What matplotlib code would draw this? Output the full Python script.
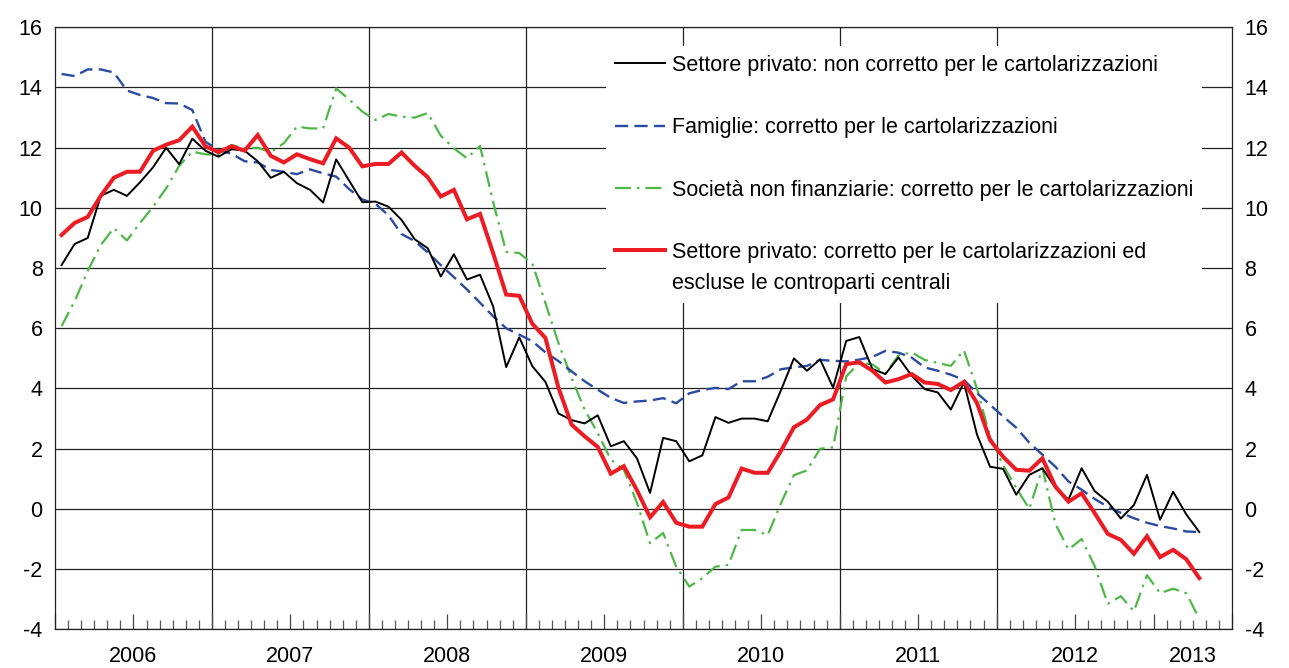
import numpy as np
import matplotlib
matplotlib.use("Agg")
import matplotlib.pyplot as plt
from matplotlib.ticker import FixedLocator, NullFormatter

plt.rcParams['font.family'] = ['Liberation Sans', 'DejaVu Sans']
plt.rcParams['lines.scale_dashes'] = False

# ---------------- data (monthly, Jan 2006 - Apr 2013) ----------------
years = ['2006', '2007', '2008', '2009', '2010', '2011', '2012', '2013']
months_shown = 90  # Jan 2006 .. Jun 2013

privato_non_corretto = [
    8.1, 8.8, 9.0, 10.4, 10.6, 10.4, 10.85, 11.35, 12.0, 11.45, 12.3, 11.9,
    11.7, 11.95, 11.9, 11.55, 11.0, 11.2, 10.82, 10.6, 10.18, 11.61, 10.9, 10.19,
    10.21, 10.04, 9.6, 8.96, 8.66, 7.72, 8.46, 7.62, 7.78, 6.73, 4.71, 5.70,
    4.74, 4.22, 3.17, 2.95, 2.84, 3.11, 2.08, 2.25, 1.68, 0.53, 2.36, 2.25,
    1.58, 1.78, 3.05, 2.86, 3.0, 3.0, 2.91, 3.93, 5.0, 4.59, 4.97, 4.03,
    5.58, 5.71, 4.65, 4.48, 5.03, 4.43, 3.98, 3.87, 3.3, 4.2, 2.47, 1.4,
    1.33, 0.47, 1.13, 1.35, 0.7, 0.31, 1.35, 0.59, 0.24, -0.32, 0.13, 1.13,
    -0.36, 0.57, -0.18, -0.77]

famiglie = [
    14.45, 14.38, 14.6, 14.6, 14.5, 13.9, 13.75, 13.65, 13.48, 13.47, 13.25, 12.2,
    11.92, 11.8, 11.55, 11.51, 11.26, 11.2, 11.12, 11.28, 11.15, 11.04, 10.62, 10.28,
    10.14, 9.75, 9.13, 8.9, 8.52, 8.1, 7.7, 7.29, 6.85, 6.4, 6.0, 5.79,
    5.57, 5.2, 4.91, 4.57, 4.24, 3.96, 3.69, 3.52, 3.57, 3.6, 3.68, 3.51,
    3.84, 3.95, 4.02, 3.98, 4.24, 4.24, 4.39, 4.64, 4.7, 4.75, 4.95, 4.92,
    4.9, 4.96, 5.05, 5.25, 5.19, 5.03, 4.7, 4.59, 4.46, 4.28, 3.85, 3.46,
    3.07, 2.7, 2.2, 1.8, 1.4, 0.91, 0.64, 0.33, 0.07, -0.13, -0.31, -0.46,
    -0.57, -0.65, -0.75, -0.77]

societa = [
    6.07, 6.9, 7.9, 8.77, 9.33, 8.92, 9.5, 10.04, 10.65, 11.4, 11.87, 11.78,
    11.76, 12.09, 11.98, 12.0, 11.85, 12.15, 12.7, 12.64, 12.64, 13.97, 13.6, 13.2,
    12.92, 13.12, 13.03, 13.0, 13.15, 12.4, 11.98, 11.65, 12.06, 10.2, 8.54, 8.5,
    8.15, 6.84, 5.51, 4.35, 3.3, 2.52, 1.64, 1.3, 0.2, -1.14, -0.8, -1.92,
    -2.58, -2.3, -1.92, -1.86, -0.7, -0.7, -0.87, 0.18, 1.12, 1.28, 2.0, 2.05,
    4.4, 4.85, 4.8, 4.5, 5.1, 5.2, 4.95, 4.85, 4.75, 5.27, 4.0, 2.4,
    1.45, 0.7, 0.0, 1.35, -0.5, -1.35, -1.0, -1.9, -3.15, -2.9, -3.4, -2.2,
    -2.8, -2.65, -2.8, -3.65]

privato_corretto = [
    9.1, 9.5, 9.7, 10.4, 11.0, 11.2, 11.2, 11.9, 12.1, 12.25, 12.7, 12.05,
    11.85, 12.05, 11.9, 12.42, 11.73, 11.51, 11.78, 11.62, 11.48, 12.31, 12.0, 11.38,
    11.46, 11.46, 11.84, 11.4, 11.02, 10.38, 10.6, 9.62, 9.8, 8.5, 7.12, 7.08,
    6.15, 5.68, 4.02, 2.8, 2.41, 2.06, 1.17, 1.42, 0.62, -0.28, 0.23, -0.46,
    -0.59, -0.59, 0.16, 0.38, 1.34, 1.2, 1.2, 1.92, 2.71, 2.97, 3.45, 3.64,
    4.81, 4.87, 4.59, 4.2, 4.31, 4.48, 4.2, 4.15, 3.95, 4.22, 3.52, 2.29,
    1.73, 1.3, 1.27, 1.68, 0.74, 0.24, 0.52, -0.14, -0.83, -1.03, -1.49, -0.91,
    -1.6, -1.36, -1.67, -2.3]

labels = [
    "Settore privato: non corretto per le cartolarizzazioni",
    "Famiglie: corretto per le cartolarizzazioni",
    "Società non finanziarie: corretto per le cartolarizzazioni",
    "Settore privato: corretto per le cartolarizzazioni ed\nescluse le controparti centrali",
]

y_ticks = list(range(-4, 17, 2))

# ---------------- figure ----------------
W, H = 1289, 668
FS = 15.5
fig = plt.figure(figsize=(W / 100, H / 100), dpi=100)
ax = fig.add_axes([55 / W, 1 - 629.3 / H, 1177 / W, 602 / H])

n = len(privato_corretto)
x = np.arange(n) + 0.5  # month centres

c_black = '#000000'
c_blue = '#2B4BA0'
c_green = '#4DB848'
c_red = '#EC1C24'

l_green, = ax.plot(x, societa, color=c_green, lw=1.6, zorder=3,
                   dashes=(11.5, 4.3, 1.8, 4.3), label=labels[2])
l_blue, = ax.plot(x, famiglie, color=c_blue, lw=1.7, zorder=4,
                  dashes=(9.5, 4.5), label=labels[1])
l_black, = ax.plot(x, privato_non_corretto, color=c_black, lw=1.4, zorder=5,
                   label=labels[0])
l_red, = ax.plot(x, privato_corretto, color=c_red, lw=2.9, zorder=6,
                 solid_joinstyle='miter', label=labels[3])

ax.set_xlim(0, months_shown)
ax.set_ylim(-4, 16)

# y axis
ax.set_yticks(y_ticks)
ax.set_yticklabels([str(v) for v in y_ticks])
ax.tick_params(axis='y', length=0, labelsize=FS, labelleft=True,
               labelright=True, pad=9)
ax.yaxis.grid(True, color='#222222', lw=0.9, zorder=0)

# x axis: month ticks inward, half-year ticks longer, year gridlines
year_edges = np.arange(0, months_shown + 1, 12)
ax.xaxis.set_major_locator(FixedLocator(np.arange(0, months_shown + 1, 6)))
ax.xaxis.set_minor_locator(FixedLocator(np.arange(0, months_shown + 1, 1)))
ax.xaxis.set_major_formatter(NullFormatter())
ax.tick_params(axis='x', which='major', direction='in', length=11, width=0.9,
               color='#444444')
ax.tick_params(axis='x', which='minor', direction='in', length=6.5, width=0.9,
               color='#555555')
for xe in year_edges[1:-1]:
    ax.axvline(xe, color='#222222', lw=0.9, zorder=0)

# year labels centred on the visible part of each year
centres = [(min(e + 12, months_shown) + e) / 2 for e in year_edges[:len(years)]]
sec = ax.secondary_xaxis('bottom')
sec.set_xticks(centres)
sec.set_xticklabels(years)
sec.tick_params(length=0, labelsize=FS, pad=12)
for s in sec.spines.values():
    s.set_visible(False)

for s in ax.spines.values():
    s.set_color('#222222')
    s.set_linewidth(0.9)

# legend
fs_px = FS * 100 / 72
bp = 0.4
leg = ax.legend(handles=[l_black, l_blue, l_green, l_red],
                loc='upper left',
                bbox_to_anchor=((615 - bp * fs_px - 55) / 1177,
                                (629.3 - 46) / 602),
                frameon=True, fancybox=False, facecolor='white',
                edgecolor='none', framealpha=1, fontsize=FS,
                handlelength=2.33, handletextpad=0.33, labelspacing=1.93,
                borderpad=bp, borderaxespad=0)
leg.set_zorder(2)
for t in leg.get_texts():
    t.set_linespacing(1.63)
# align the red handle with the first line of its two-line label
try:
    col = leg._legend_handle_box.get_children()[0]
    col.get_children()[3].align = 'top'
except Exception:
    pass

fig.savefig('out.png', dpi=100)
